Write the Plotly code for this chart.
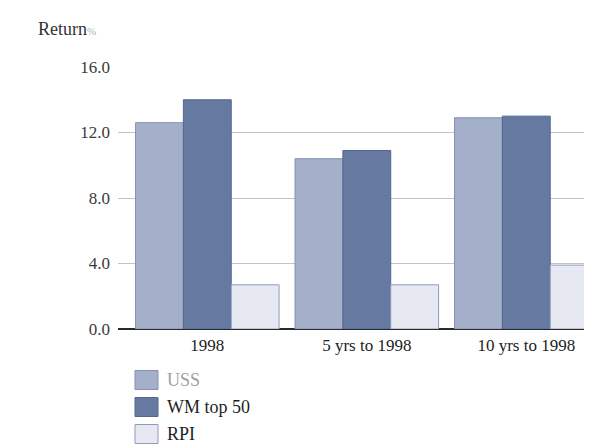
import plotly.graph_objects as go

categories = ["1998", "5 yrs to 1998", "10 yrs to 1998"]
uss = [12.6, 10.4, 12.9]
wm_top50 = [14.0, 10.9, 13.0]
rpi = [2.7, 2.7, 3.9]
y_ticks = [0, 4, 8, 12, 16]
y_tick_labels = ["0.0", "4.0", "8.0", "12.0", "16.0"]

series = [
    ("USS", uss, "#a4afca", "#8291b5", "#a0a0a0"),
    ("WM top 50", wm_top50, "#6679a1", "#54688f", "#1e1e1e"),
    ("RPI", rpi, "#e6e9f2", "#8f9bbb", "#1e1e1e"),
]

fig = go.Figure()
for name, vals, fill, line, _ in series:
    fig.add_trace(go.Bar(
        x=list(range(len(categories))), y=vals, name=name,
        marker=dict(color=fill, line=dict(color=line, width=1)),
        showlegend=False,
    ))

serif = "Liberation Serif, DejaVu Serif, serif"
fig.update_layout(
    width=592, height=444,
    margin=dict(l=110, r=0, t=59, b=123),
    paper_bgcolor="white", plot_bgcolor="white",
    barmode="group", bargap=0.1, bargroupgap=0,
    xaxis=dict(
        range=[-0.56, 2.462], tickvals=list(range(len(categories))),
        ticktext=categories, showgrid=False, zeroline=False, showline=False,
        tickfont=dict(family=serif, size=17, color="#222222"), ticks="",
        ticklabelstandoff=4,
    ),
    yaxis=dict(
        range=[0, 16], tickvals=y_ticks, ticktext=y_tick_labels,
        showgrid=True, gridcolor="#c4c4c4", gridwidth=1,
        zeroline=True, zerolinecolor="#2a2a2a", zerolinewidth=2,
        showline=False, ticks="", ticklabelstandoff=7,
        tickfont=dict(family=serif, size=17, color="#3a3a3a"),
    ),
    font=dict(family=serif),
)

fig.add_annotation(
    xref="paper", yref="paper", x=(28 - 110) / 482, y=1.0, yshift=38,
    xanchor="left", yanchor="middle", showarrow=False,
    text="Return<span style='font-size:11px;color:#b0b0b0'>%</span>",
    font=dict(family=serif, size=18, color="#333333"),
)

# legend drawn below the plot
legend_y0 = 372
for i, (name, _, fill, line, tcol) in enumerate(series):
    cy = legend_y0 + i * 27
    fig.add_shape(
        type="rect", xref="paper", yref="paper",
        x0=(127 - 110) / 482, x1=(150 - 110) / 482,
        y0=(444 - 123 - (cy + 9.5)) / 262, y1=(444 - 123 - (cy - 9.5)) / 262,
        fillcolor=fill, line=dict(color=line, width=1),
    )
    fig.add_annotation(
        xref="paper", yref="paper", x=(157 - 110) / 482,
        y=(444 - 123 - cy) / 262, xanchor="left", yanchor="middle",
        showarrow=False, text=name,
        font=dict(family=serif, size=18, color=tcol),
    )

fig.write_html("out.html")
